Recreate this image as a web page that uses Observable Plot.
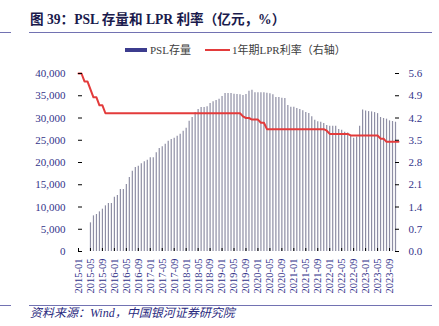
<!DOCTYPE html>
<html><head><meta charset="utf-8">
<script src="https://cdn.jsdelivr.net/npm/d3@7"></script>
<script src="https://cdn.jsdelivr.net/npm/@observablehq/plot@0.6"></script>
<style>
body{margin:0;background:#fff;}
#wrap{position:relative;width:439px;height:326px;overflow:hidden;background:#fff;font-family:"Liberation Serif","Noto Sans CJK SC",serif;}
.hr{position:absolute;height:1px;background:#7272b2;}
#title{position:absolute;left:30px;top:12px;font-size:13.6px;font-weight:bold;color:#1a1a4c;white-space:nowrap;line-height:16px;}
.lg{position:absolute;font-size:11px;color:#404040;white-space:nowrap;line-height:12px;}
.sw{position:absolute;}
#src{position:absolute;left:30px;top:306px;font-size:12px;font-style:italic;color:#2a2a80;white-space:nowrap;line-height:14px;}
#chart{position:absolute;left:0;top:60px;}
</style>
</head><body>
<div id="wrap">
  <div class="hr" style="left:0;top:32px;width:11px"></div>
  <div class="hr" style="left:29px;top:32px;width:403px"></div>
  <div id="title">图 39：PSL 存量和 LPR 利率（亿元，%）</div>
  <div class="sw" style="left:125px;top:48px;width:22px;height:4px;background:#3c3c8e"></div>
  <div class="lg" style="left:150px;top:44px">PSL存量</div>
  <div class="sw" style="left:205px;top:49px;width:25px;height:2px;background:#e33b3b"></div>
  <div class="lg" style="left:232px;top:44px">1年期LPR利率（右轴）</div>
  <div id="chart"></div>
  <div class="hr" style="left:0;top:305px;width:11px"></div>
  <div class="hr" style="left:29px;top:305px;width:403px"></div>
  <div id="src">资料来源：Wind，中国银河证券研究院</div>
</div>
<script>
const months = [
"2015-01","2015-02","2015-03","2015-04","2015-05","2015-06","2015-07","2015-08","2015-09","2015-10","2015-11","2015-12",
"2016-01","2016-02","2016-03","2016-04","2016-05","2016-06","2016-07","2016-08","2016-09","2016-10","2016-11","2016-12",
"2017-01","2017-02","2017-03","2017-04","2017-05","2017-06","2017-07","2017-08","2017-09","2017-10","2017-11","2017-12",
"2018-01","2018-02","2018-03","2018-04","2018-05","2018-06","2018-07","2018-08","2018-09","2018-10","2018-11","2018-12",
"2019-01","2019-02","2019-03","2019-04","2019-05","2019-06","2019-07","2019-08","2019-09","2019-10","2019-11","2019-12",
"2020-01","2020-02","2020-03","2020-04","2020-05","2020-06","2020-07","2020-08","2020-09","2020-10","2020-11","2020-12",
"2021-01","2021-02","2021-03","2021-04","2021-05","2021-06","2021-07","2021-08","2021-09","2021-10","2021-11","2021-12",
"2022-01","2022-02","2022-03","2022-04","2022-05","2022-06","2022-07","2022-08","2022-09","2022-10","2022-11","2022-12",
"2023-01","2023-02","2023-03","2023-04","2023-05","2023-06","2023-07","2023-08","2023-09","2023-10","2023-11","2023-12"
];
// PSL stock (亿元)
const psl = [
null,null,null,null,6440,8010,8310,8910,9510,10260,10790,10790,
12210,12580,13930,13930,15060,16630,18050,18880,19170,19700,20150,20520,
21050,21050,22170,23140,23520,24120,24790,25170,25470,25920,26370,27040,
27710,29290,30110,31230,31910,32360,32360,32510,33260,33630,33930,34230,
34830,35500,35500,35500,35350,35280,35200,35050,35280,36030,36250,35650,
35650,35650,35650,35580,35430,35200,34600,34600,34450,34380,32810,32430,
32430,32130,31910,31610,31230,31010,30260,29510,29170,29050,28760,28310,
28160,28160,28160,27410,27260,26810,26650,25980,25460,25750,28160,31820,
31590,31440,31370,31220,30990,30110,29890,29740,29360,29210,29050,null
];
// 1-year LPR / benchmark rate (%)
const lpr = [
5.60,5.60,5.35,5.35,5.10,4.85,4.85,4.60,4.60,4.35,4.35,4.35,
4.35,4.35,4.35,4.35,4.35,4.35,4.35,4.35,4.35,4.35,4.35,4.35,
4.35,4.35,4.35,4.35,4.35,4.35,4.35,4.35,4.35,4.35,4.35,4.35,
4.35,4.35,4.35,4.35,4.35,4.35,4.35,4.35,4.35,4.35,4.35,4.35,
4.35,4.35,4.35,4.35,4.35,4.35,4.35,4.25,4.20,4.20,4.15,4.15,
4.15,4.05,4.05,3.85,3.85,3.85,3.85,3.85,3.85,3.85,3.85,3.85,
3.85,3.85,3.85,3.85,3.85,3.85,3.85,3.85,3.85,3.85,3.85,3.80,
3.70,3.70,3.70,3.70,3.70,3.70,3.70,3.65,3.65,3.65,3.65,3.65,
3.65,3.65,3.65,3.65,3.65,3.55,3.55,3.45,3.45,3.45,3.45,3.45
];
const leftTicks = [0,5000,10000,15000,20000,25000,30000,35000,40000];
const rightTicks = [0,0.7,1.4,2.1,2.8,3.5,4.2,4.9,5.6];
const K = 40000/5.6;
const data = months.map((m,i)=>({i, m, psl: psl[i], lpr: lpr[i]}));
const xTicks = months.map((m,i)=>i).filter(i => i % 4 === 0);
const axisCommon = {stroke:"#000", fill:"#33338a", line:true, label:null};

const chart = Plot.plot({
  width:439, height:241,
  marginLeft:78, marginRight:41, marginTop:13, marginBottom:50,
  style:{fontFamily:'"Liberation Serif","Noto Sans CJK SC",serif', fontSize:"11px", background:"transparent", overflow:"visible"},
  x:{type:"linear", domain:[0, months.length-1]},
  y:{domain:[0,40000]},
  marks:[
    Plot.ruleX(data.filter(d=>d.psl!=null), {x:"i", y1:0, y2:"psl", stroke:"#8e8ea4", strokeWidth:1.2}),
    Plot.line(data, {x:"i", y:d=>d.lpr*K, stroke:"#e33b3b", strokeWidth:2}),
    Plot.axisY(leftTicks, {...axisCommon, anchor:"left", tickFormat:d3.format(","), tickSize:-4, tickPadding:17}),
    Plot.axisY(rightTicks.map(v=>v*K), {...axisCommon, anchor:"right", tickFormat:d=>(d/K).toFixed(1), tickSize:-4, tickPadding:14}),
    Plot.axisX(xTicks, {...axisCommon, anchor:"bottom", tickFormat:i=>months[i], tickRotate:-90, tickSize:-3, tickPadding:10, fontSize:10.5})
  ]
});
document.getElementById("chart").appendChild(chart);
</script>
</body></html>
